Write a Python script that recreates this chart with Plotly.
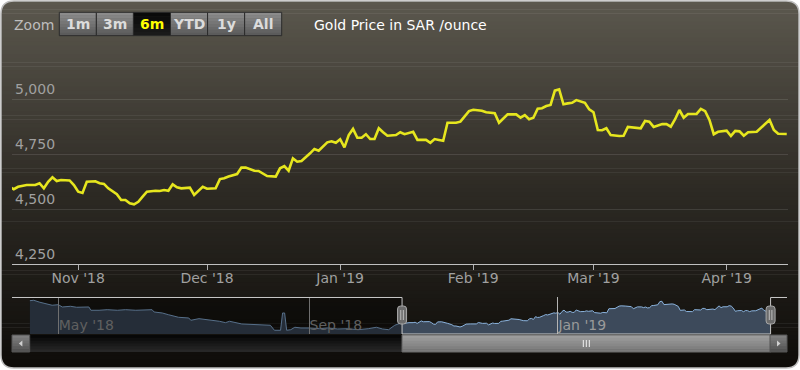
import plotly.graph_objects as go
from datetime import datetime

W, H = 800, 370

# ---------------- data ----------------
nav_dates = ["2018-04-17", "2018-04-19", "2018-04-22", "2018-04-26", "2018-04-28", "2018-05-01",
             "2018-05-03", "2018-05-07", "2018-05-10", "2018-05-16", "2018-05-17", "2018-05-21",
             "2018-05-25", "2018-05-30", "2018-06-03", "2018-06-08", "2018-06-12", "2018-06-16",
             "2018-06-17", "2018-06-21", "2018-06-24", "2018-06-29", "2018-07-04", "2018-07-05",
             "2018-07-09", "2018-07-14", "2018-07-19", "2018-07-22", "2018-07-24", "2018-07-30",
             "2018-08-04", "2018-08-09", "2018-08-13", "2018-08-15", "2018-08-18", "2018-08-19",
             "2018-08-20", "2018-08-21", "2018-08-23", "2018-08-25", "2018-08-28", "2018-09-01",
             "2018-09-06", "2018-09-10", "2018-09-15", "2018-09-20", "2018-09-25", "2018-09-30",
             "2018-10-04", "2018-10-07", "2018-10-10", "2018-10-13", "2018-10-15"]
nav_values = [5056, 5064, 5024, 4989, 4963, 4975,
              4928, 4942, 4922, 4928, 4861, 4861,
              4873, 4861, 4873, 4861, 4873, 4873,
              4826, 4806, 4771, 4718, 4704, 4657,
              4690, 4670, 4637, 4609, 4637, 4582,
              4568, 4556, 4556, 4454, 4454, 4806,
              4806, 4454, 4466, 4515, 4501, 4501,
              4486, 4501, 4480, 4486, 4466, 4486,
              4515, 4480, 4466, 4556, 4582]

dates = ["2018-10-16", "2018-10-17", "2018-10-18", "2018-10-20", "2018-10-22", "2018-10-23",
         "2018-10-24", "2018-10-25", "2018-10-26", "2018-10-27", "2018-10-28", "2018-10-30",
         "2018-10-31", "2018-11-01", "2018-11-02", "2018-11-03", "2018-11-05", "2018-11-06",
         "2018-11-07", "2018-11-08", "2018-11-10", "2018-11-11", "2018-11-12", "2018-11-13",
         "2018-11-14", "2018-11-15", "2018-11-16", "2018-11-17", "2018-11-19", "2018-11-20",
         "2018-11-21", "2018-11-22", "2018-11-23", "2018-11-24", "2018-11-25", "2018-11-27",
         "2018-11-28", "2018-11-30", "2018-12-01", "2018-12-03", "2018-12-04", "2018-12-05",
         "2018-12-06", "2018-12-07", "2018-12-08", "2018-12-09", "2018-12-10", "2018-12-12",
         "2018-12-13", "2018-12-15", "2018-12-17", "2018-12-18", "2018-12-19", "2018-12-20",
         "2018-12-21", "2018-12-22", "2018-12-23", "2018-12-25", "2018-12-26", "2018-12-27",
         "2018-12-29", "2018-12-30", "2018-12-31", "2019-01-01", "2019-01-02", "2019-01-03",
         "2019-01-04", "2019-01-05", "2019-01-06", "2019-01-07", "2019-01-08", "2019-01-09",
         "2019-01-10", "2019-01-11", "2019-01-12", "2019-01-14", "2019-01-15", "2019-01-16",
         "2019-01-18", "2019-01-19", "2019-01-21", "2019-01-22", "2019-01-23", "2019-01-24",
         "2019-01-25", "2019-01-26", "2019-01-28", "2019-01-29", "2019-01-31", "2019-02-01",
         "2019-02-03", "2019-02-04", "2019-02-06", "2019-02-07", "2019-02-08", "2019-02-09",
         "2019-02-11", "2019-02-12", "2019-02-13", "2019-02-14", "2019-02-15", "2019-02-16",
         "2019-02-17", "2019-02-18", "2019-02-19", "2019-02-20", "2019-02-21", "2019-02-22",
         "2019-02-23", "2019-02-24", "2019-02-25", "2019-02-26", "2019-02-27", "2019-02-28",
         "2019-03-01", "2019-03-02", "2019-03-03", "2019-03-04", "2019-03-05", "2019-03-07",
         "2019-03-08", "2019-03-09", "2019-03-11", "2019-03-12", "2019-03-13", "2019-03-14",
         "2019-03-15", "2019-03-17", "2019-03-18", "2019-03-19", "2019-03-20", "2019-03-21",
         "2019-03-22", "2019-03-23", "2019-03-25", "2019-03-26", "2019-03-27", "2019-03-28",
         "2019-03-29", "2019-03-30", "2019-04-01", "2019-04-02", "2019-04-03", "2019-04-04",
         "2019-04-05", "2019-04-06", "2019-04-08", "2019-04-09", "2019-04-11", "2019-04-12",
         "2019-04-13", "2019-04-15"]
values = [4601, 4590, 4601, 4609, 4609, 4617,
          4594, 4624, 4644, 4627, 4632, 4630,
          4609, 4579, 4573, 4624, 4626, 4617,
          4614, 4594, 4567, 4541, 4541, 4526,
          4521, 4533, 4556, 4579, 4583, 4582,
          4586, 4583, 4612, 4599, 4594, 4597,
          4564, 4601, 4592, 4594, 4636, 4640,
          4648, 4655, 4659, 4688, 4688, 4674,
          4673, 4650, 4647, 4685, 4695, 4674,
          4730, 4715, 4718, 4753, 4773, 4765,
          4803, 4808, 4801, 4817, 4780, 4836,
          4864, 4824, 4824, 4840, 4818, 4818,
          4867, 4849, 4833, 4836, 4849, 4840,
          4851, 4814, 4814, 4801, 4818, 4814,
          4810, 4892, 4892, 4897, 4945, 4951,
          4947, 4940, 4935, 4892, 4909, 4930,
          4930, 4915, 4927, 4908, 4915, 4956,
          4958, 4968, 4973, 5038, 5044, 4976,
          4980, 4983, 4995, 4990, 4983, 4953,
          4940, 4859, 4858, 4867, 4836, 4832,
          4833, 4873, 4871, 4867, 4900, 4897,
          4873, 4886, 4886, 4874, 4908, 4950,
          4915, 4932, 4932, 4955, 4945, 4905,
          4840, 4851, 4856, 4832, 4855, 4853,
          4833, 4849, 4851, 4870, 4905, 4859,
          4842, 4841]

y_ticks = [4250, 4500, 4750, 5000]
y_range = [4250, 5240]
x_range = ["2018-10-16 14:00", "2019-04-15 07:00"]
nav_range = ["2018-04-17", "2019-04-15"]
nav_y_range = [4378, 5131]
nav_ticks = ["2018-05-01", "2018-09-01", "2019-01-01"]
buttons = ["1m", "3m", "6m", "YTD", "1y", "All"]
active_button = "6m"
title_text = "Gold Price in SAR /ounce"

FONT = "DejaVu Sans"

# ---------------- geometry helpers (pixels -> paper) ----------------
def X(p):
    return p / W


def Y(p):
    return 1 - p / H


MAIN_L, MAIN_R, MAIN_T, MAIN_B = 12, 788, 46.2, 264
NAV_L, NAV_R, NAV_T, NAV_B = 29.7, 770, 297, 334
SB_L, SB_R, SB_T, SB_B = 12, 787, 335, 352


def ts(s):
    return datetime.fromisoformat(s).timestamp()


def nav_px(s):
    t0, t1 = ts(nav_range[0]), ts(nav_range[1])
    return NAV_L + (ts(s) - t0) / (t1 - t0) * (NAV_R - NAV_L)


left_h = nav_px(x_range[0])
right_h = nav_px(x_range[1])

shapes = []


def rgb(c):
    return "rgb(%d,%d,%d)" % tuple(int(round(v)) for v in c)


def lerp_stops(stops, t):
    for (t0, c0), (t1, c1) in zip(stops[:-1], stops[1:]):
        if t0 <= t <= t1:
            f = (t - t0) / (t1 - t0) if t1 > t0 else 0
            return [a + (b - a) * f for a, b in zip(c0, c1)]
    return stops[-1][1] if t > stops[-1][0] else stops[0][1]


def vgrad(x0, x1, y0, y1, stops, n, layer="below"):
    step = (y1 - y0) / n
    for i in range(n):
        ya = y0 + i * step
        yb = ya + step + 0.6
        c = lerp_stops(stops, (i + 0.5) / n)
        shapes.append(dict(type="rect", xref="paper", yref="paper",
                           x0=X(x0), x1=X(x1), y0=Y(min(yb, y1)), y1=Y(ya),
                           fillcolor=rgb(c), line=dict(width=0), layer=layer))


def rect(x0, y0, x1, y1, fill=None, line=None, lw=1, layer="above"):
    shapes.append(dict(type="rect", xref="paper", yref="paper",
                       x0=X(x0), x1=X(x1), y0=Y(y1), y1=Y(y0),
                       fillcolor=fill or "rgba(0,0,0,0)",
                       line=dict(color=line or "rgba(0,0,0,0)", width=lw if line else 0),
                       layer=layer))


def seg(x0, y0, x1, y1, color, w=1, layer="above"):
    shapes.append(dict(type="line", xref="paper", yref="paper",
                       x0=X(x0), x1=X(x1), y0=Y(y0), y1=Y(y1),
                       line=dict(color=color, width=w), layer=layer))


def path(d_pts, fill=None, line=None, lw=1, layer="above"):
    shapes.append(dict(type="path", xref="paper", yref="paper", path=d_pts,
                       fillcolor=fill or "rgba(0,0,0,0)",
                       line=dict(color=line or "rgba(0,0,0,0)", width=lw if line else 0),
                       layer=layer))


def P(x, y):
    return "%.5f,%.5f" % (X(x), Y(y))


def rounded_rect_path(x0, y0, x1, y1, r):
    return ("M " + P(x0 + r, y0) + " L " + P(x1 - r, y0) + " Q " + P(x1, y0) + " " + P(x1, y0 + r) +
            " L " + P(x1, y1 - r) + " Q " + P(x1, y1) + " " + P(x1 - r, y1) +
            " L " + P(x0 + r, y1) + " Q " + P(x0, y1) + " " + P(x0, y1 - r) +
            " L " + P(x0, y0 + r) + " Q " + P(x0, y0) + " " + P(x0 + r, y0) + " Z")


# ---------------- chart background (gradient in rounded frame) ----------------
FX0, FY0, FX1, FY1, FR = 1, 1, 799, 368, 13
vgrad(FX0, FX1, FY0, FY1, [(0, (92, 88, 78)), (0.5, (46, 43, 37)), (1, (14, 12, 9))], 90)
# white corner masks
path("M " + P(0, 0) + " L " + P(FX0 + FR, 0) + " L " + P(FX0 + FR, FY0) + " Q " + P(FX0, FY0) + " " +
     P(FX0, FY0 + FR) + " L " + P(0, FY0 + FR) + " Z", fill="white", layer="below")
path("M " + P(W, 0) + " L " + P(FX1 - FR, 0) + " L " + P(FX1 - FR, FY0) + " Q " + P(FX1, FY0) + " " +
     P(FX1, FY0 + FR) + " L " + P(W, FY0 + FR) + " Z", fill="white", layer="below")
path("M " + P(0, H) + " L " + P(FX0 + FR, H) + " L " + P(FX0 + FR, FY1) + " Q " + P(FX0, FY1) + " " +
     P(FX0, FY1 - FR) + " L " + P(0, FY1 - FR) + " Z", fill="white", layer="below")
path("M " + P(W, H) + " L " + P(FX1 - FR, H) + " L " + P(FX1 - FR, FY1) + " Q " + P(FX1, FY1) + " " +
     P(FX1, FY1 - FR) + " L " + P(W, FY1 - FR) + " Z", fill="white", layer="below")
path(rounded_rect_path(FX0, FY0, FX1, FY1, FR), line="#bdbdbd", lw=1.5, layer="below")

# ---------------- range selector buttons ----------------
BX0, BY0, BY1 = 59.3, 12.3, 35.7
BW = (281.7 - 59.3) / len(buttons)
annotations = []
for i, b in enumerate(buttons):
    x0 = BX0 + i * BW
    x1 = x0 + BW
    if b == active_button:
        vgrad(x0, x1, BY0, BY1, [(0, (8, 8, 8)), (1, (28, 28, 28))], 6, layer="above")
        col = "#ffff00"
    else:
        vgrad(x0, x1, BY0, BY1, [(0, (142, 142, 142)), (1, (88, 88, 88))], 8, layer="above")
        col = "#dcdcdc"
    rect(x0, BY0, x1, BY1, line="#2b2b2b", lw=1)
    annotations.append(dict(x=X((x0 + x1) / 2), y=Y(24.5), xref="paper", yref="paper",
                            text="<b>%s</b>" % b, showarrow=False,
                            font=dict(family=FONT, size=14, color=col),
                            xanchor="center", yanchor="middle"))
annotations.append(dict(x=X(12), y=Y(25), xref="paper", yref="paper", text="Zoom",
                        showarrow=False, font=dict(family=FONT, size=14, color="#bdbdbd"),
                        xanchor="left", yanchor="middle"))
annotations.append(dict(x=X(400), y=Y(25), xref="paper", yref="paper", text=title_text,
                        showarrow=False, font=dict(family=FONT, size=14, color="#ffffff"),
                        xanchor="center", yanchor="middle"))

# ---------------- navigator decorations ----------------
rect(NAV_L, NAV_T, left_h, NAV_B, fill="rgba(0,0,0,0.38)")
path("M " + P(SB_L, NAV_T + 0.5) + " L " + P(left_h, NAV_T + 0.5) + " L " + P(left_h, NAV_B) +
     " L " + P(right_h, NAV_B) + " L " + P(right_h, NAV_T + 0.5) + " L " + P(SB_R, NAV_T + 0.5),
     line="#c8c8c8", lw=1)

vgrad(SB_L, SB_R, SB_T, SB_B, [(0, (4, 4, 4)), (1, (42, 42, 42))], 6, layer="above")
vgrad(left_h, right_h, SB_T, SB_B, [(0, (160, 160, 160)), (1, (118, 118, 118))], 6, layer="above")
rect(left_h, SB_T, right_h, SB_B, line="#6a6a6a", lw=1)
cx = (left_h + right_h) / 2
for dx in (-3, 0, 3):
    seg(cx + dx, SB_T + 5, cx + dx, SB_B - 5, "#f0f0f0", 1)
for (bx0, bx1, direction) in ((SB_L, NAV_L, -1), (NAV_R, SB_R, 1)):
    vgrad(bx0, bx1, SB_T, SB_B, [(0, (130, 130, 130)), (1, (80, 80, 80))], 6, layer="above")
    rect(bx0, SB_T, bx1, SB_B, line="#555555", lw=1)
    mx, my = (bx0 + bx1) / 2, (SB_T + SB_B) / 2
    if direction < 0:
        tri = "M " + P(mx - 2, my) + " L " + P(mx + 1.5, my - 3) + " L " + P(mx + 1.5, my + 3) + " Z"
    else:
        tri = "M " + P(mx + 2, my) + " L " + P(mx - 1.5, my - 3) + " L " + P(mx - 1.5, my + 3) + " Z"
    path(tri, fill="#d0d0d0")

for hx in (left_h, right_h):
    path(rounded_rect_path(hx - 4.5, 306, hx + 4.5, 324, 3), fill="#6c6c6c", line="#a8a8a8", lw=1)
    seg(hx - 1.3, 310, hx - 1.3, 320, "#bdbdbd", 1)
    seg(hx + 1.3, 310, hx + 1.3, 320, "#bdbdbd", 1)

# ---------------- traces ----------------
fig = go.Figure()
fig.add_trace(go.Scatter(x=nav_dates + dates, y=nav_values + values, mode="lines",
                         line=dict(color="#8cb4de", width=1), fill="tozeroy",
                         fillcolor="#3d4a5b", xaxis="x2", yaxis="y2", hoverinfo="skip",
                         showlegend=False))
fig.add_trace(go.Scatter(x=dates, y=values, mode="lines", name="Gold",
                         line=dict(color="#e6e61e", width=2.6), showlegend=False))

fig.update_layout(
    width=W, height=H, margin=dict(l=0, r=0, t=0, b=0),
    paper_bgcolor="white", plot_bgcolor="rgba(0,0,0,0)",
    font=dict(family=FONT, size=14, color="#999999"),
    shapes=shapes, annotations=annotations, showlegend=False,
    xaxis=dict(domain=[X(MAIN_L), X(MAIN_R)], range=x_range, type="date",
               tick0="2018-11-01", dtick="M1", tickformat="%b '%y",
               ticks="outside", ticklen=5, tickcolor="#b0b0b0", showline=True,
               linecolor="#c0c0c0", linewidth=1, showgrid=False, zeroline=False,
               ticklabelstandoff=-4,
               tickfont=dict(family=FONT, size=14, color="#a0a0a0"), anchor="y"),
    yaxis=dict(domain=[Y(MAIN_B), Y(MAIN_T)], range=y_range, tickvals=y_ticks,
               tickformat=",", ticklabelposition="inside top", ticks="",
               showgrid=True, gridcolor="rgba(255,255,255,0.11)", gridwidth=1,
               zeroline=False, showline=False,
               tickfont=dict(family=FONT, size=14, color="#a0a0a0"), anchor="x"),
    xaxis2=dict(domain=[X(NAV_L), X(NAV_R)], range=nav_range, type="date",
                tickvals=nav_ticks, tickformat="%b '%y", ticks="inside",
                ticklen=NAV_B - NAV_T, tickcolor="#b4b4b4", tickwidth=1,
                ticklabelposition="inside right", ticklabelstandoff=-5,
                showgrid=False, zeroline=False,
                showline=False, tickfont=dict(family=FONT, size=14, color="#9a9a9a"),
                anchor="y2"),
    yaxis2=dict(domain=[Y(NAV_B), Y(NAV_T)], range=nav_y_range, visible=False,
                anchor="x2"),
)

fig.write_html("out.html", config={"displayModeBar": False},
               post_script="document.body.style.margin='0';")
